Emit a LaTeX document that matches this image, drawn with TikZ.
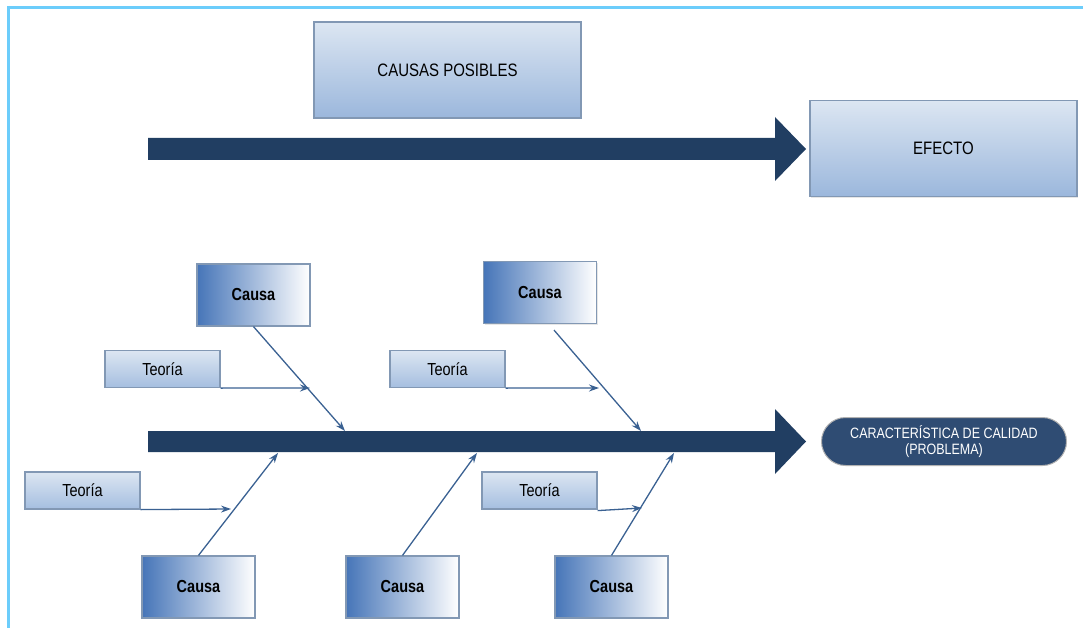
\documentclass[tikz,border=0pt]{standalone}
\usepackage{fontspec}
\usepackage{graphicx}
\setmainfont{Liberation Sans}
\usetikzlibrary{arrows.meta,shadows}
\definecolor{frameblue}{HTML}{6CCDFB}
\definecolor{spine}{HTML}{213E62}
\definecolor{boxtop}{HTML}{DCE6F2}
\definecolor{boxbot}{HTML}{9BB7DC}
\definecolor{boxline}{HTML}{8298B4}
\definecolor{causadark}{HTML}{4675B8}
\definecolor{linkblue}{HTML}{3A6192}
\definecolor{pillfill}{HTML}{2F4C73}
\newcommand\tallt[1]{\scalebox{1}[1.2]{#1}}
\tikzset{
  headbox/.style={draw=boxline, line width=1.2pt, top color=boxtop, bottom color=boxbot,
    minimum width=267pt, minimum height=96pt, inner sep=0pt, font=\fontsize{15}{18}\selectfont,
    drop shadow={opacity=0.2, shadow xshift=1.2pt, shadow yshift=-1.2pt}},
  causabox/.style={draw=boxline, line width=1.2pt, left color=causadark, right color=white,
    minimum width=113pt, minimum height=62pt, inner sep=0pt, font=\bfseries\fontsize{14.5}{17}\selectfont,
    drop shadow={opacity=0.2, shadow xshift=1.2pt, shadow yshift=-1.2pt}},
  teoriabox/.style={draw=boxline, line width=1.2pt, top color=boxtop, bottom color=boxbot!90,
    minimum width=115pt, minimum height=37pt, inner sep=0pt, font=\fontsize{14.5}{17}\selectfont},
  pill/.style={draw=gray!60, line width=1pt, fill=pillfill, rounded corners=24pt, text=white,
    minimum width=245pt, minimum height=48pt, inner sep=0pt, align=center,
    font=\fontsize{12.5}{16.5}\selectfont},
  fatarrow/.style={fill=spine, draw=none},
  link/.style={draw=linkblue, line width=1.3pt, -{Stealth[length=10pt,width=7pt]}},
}
\begin{document}
\begin{tikzpicture}[x=1pt,y=-1pt]
\useasboundingbox (0,0) rectangle (1083,628);
% frame
\draw[frameblue, line width=3pt] (7,7.5) -- (1083,7.5);
\draw[frameblue, line width=3pt] (8.5,6) -- (8.5,628);

% general scheme: causes -> effect
\node[headbox] (posibles) at (447.5,70) {\tallt{CAUSAS POSIBLES}};
\node[headbox] (efecto) at (943.5,148.5) {\tallt{EFECTO}};
\fill[fatarrow] (148,138) -- (775,138) -- (775,117) -- (806,149) -- (775,181) -- (775,160) -- (148,160) -- cycle;

% fishbone spine
\node[pill] (problema) at (944,441.5) {\tallt{CARACTERÍSTICA DE CALIDAD}\\\tallt{(PROBLEMA)}};
\fill[fatarrow] (148,431) -- (775,431) -- (775,409) -- (806,441.5) -- (775,474) -- (775,452) -- (148,452) -- cycle;

% points on the spine where the bones meet
\coordinate (s1) at (345,431);
\coordinate (s2) at (641,431);
\coordinate (s3) at (278,453);
\coordinate (s4) at (477,453);
\coordinate (s5) at (674,453);
% points on the bones where the theories meet
\coordinate (t1) at (310,388);
\coordinate (t2) at (599,388);
\coordinate (t3) at (231,509);
\coordinate (t4) at (642,508);

% upper causes
\node[causabox] (c1) at (253.5,295) {\tallt{Causa}};
\node[causabox] (c2) at (540,292.5) {\tallt{Causa}};
% lower causes
\node[causabox] (c3) at (198.5,587) {\tallt{Causa}};
\node[causabox] (c4) at (402.5,587) {\tallt{Causa}};
\node[causabox] (c5) at (611.5,587) {\tallt{Causa}};

% theories
\node[teoriabox] (th1) at (162.5,369) {\tallt{Teoría}};
\node[teoriabox] (th2) at (447.5,369) {\tallt{Teoría}};
\node[teoriabox] (th3) at (82.5,490.5) {\tallt{Teoría}};
\node[teoriabox] (th4) at (539.5,490.5) {\tallt{Teoría}};

% bones
\draw[link] (c1.south) -- (s1);
\draw[link] ([xshift=14pt,yshift=-6pt]c2.south) -- (s2);
\draw[link] (c3.north) -- (s3);
\draw[link] (c4.north) -- (s4);
\draw[link] (c5.north) -- (s5);
\draw[link] (th1.south east) -- (t1);
\draw[link] (th2.south east) -- (t2);
\draw[link] (th3.south east) -- (t3);
\draw[link] ([yshift=-1pt]th4.south east) -- (t4);
\end{tikzpicture}
\end{document}
